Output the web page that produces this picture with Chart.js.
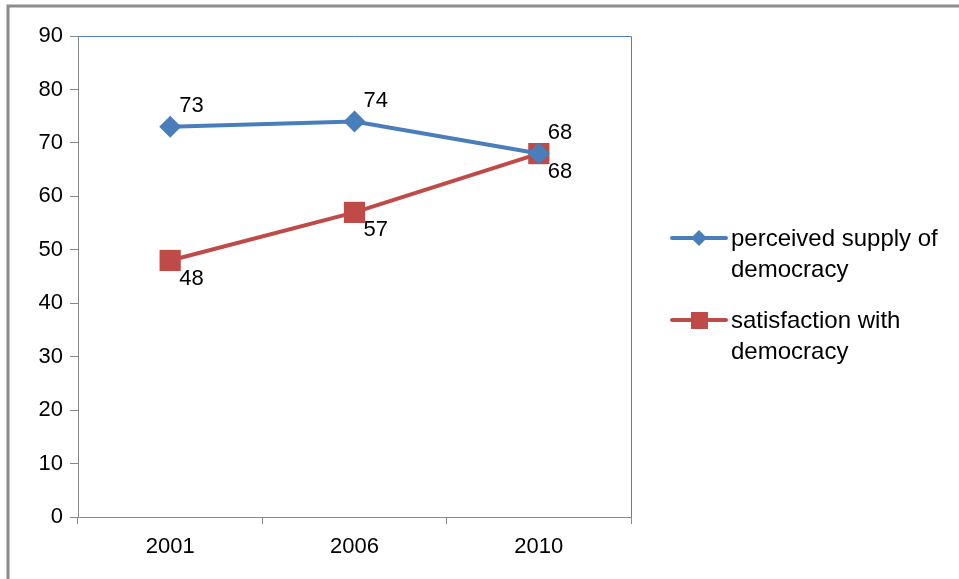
<!DOCTYPE html>
<html>
<head>
<meta charset="utf-8">
<script src="https://cdn.jsdelivr.net/npm/chart.js@4/dist/chart.umd.min.js"></script>
<style>
  html, body { margin: 0; padding: 0; background: #fff; }
  #wrap { width: 959px; height: 579px; position: relative; }
</style>
</head>
<body>
<div id="wrap"><canvas id="chart"></canvas></div>
<script>
let years = ["2001", "2006", "2010"];
let supplyValues = [73, 74, 68];
let satisfactionValues = [48, 57, 68];
let seriesNames = ["perceived supply of democracy", "satisfaction with democracy"];
let legendLines = [["perceived supply of", "democracy"], ["satisfaction with", "democracy"]];

let FONT = "'Liberation Sans', Arial, sans-serif";
let blue = "#4a7ebb";
let red = "#be4b48";

// outer frame + blue top/right edge of plot area
let framePlugin = {
  id: "frame",
  beforeDraw(chart) {
    let ctx = chart.ctx;
    ctx.save();
    ctx.fillStyle = "#fff";
    ctx.fillRect(0, 0, chart.width, chart.height);
    ctx.strokeStyle = "#8c8c8c";
    ctx.lineWidth = 3;
    ctx.beginPath();
    ctx.moveTo(8, chart.height);
    ctx.lineTo(8, 6);
    ctx.lineTo(chart.width, 6);
    ctx.stroke();
    ctx.restore();
  },
  afterDraw(chart) {
    let a = chart.chartArea, ctx = chart.ctx;
    ctx.save();
    ctx.strokeStyle = "#4f81bd";
    ctx.lineWidth = 1;
    ctx.beginPath();
    ctx.moveTo(a.left, a.top + 0.5);
    ctx.lineTo(a.right + 0.5, a.top + 0.5);
    ctx.lineTo(a.right + 0.5, a.bottom);
    ctx.stroke();
    ctx.restore();
  }
};

// value labels: first series above-right, second below-right
let labelPlugin = {
  id: "valueLabels",
  afterDatasetsDraw(chart) {
    let ctx = chart.ctx;
    ctx.save();
    ctx.font = "22px " + FONT;
    ctx.fillStyle = "#000";
    ctx.textAlign = "left";
    ctx.textBaseline = "middle";
    chart.data.datasets.forEach((ds, i) => {
      let meta = chart.getDatasetMeta(i);
      meta.data.forEach((pt, j) => {
        let dy = i === 0 ? -21 : 18;
        ctx.fillText(String(ds.data[j]), pt.x + 9, pt.y + dy);
      });
    });
    ctx.restore();
  }
};

// legend on the right with wrapped text
let legendPlugin = {
  id: "sideLegend",
  afterDraw(chart) {
    let ctx = chart.ctx;
    let rows = [238, 320];
    ctx.save();
    chart.data.datasets.forEach((ds, i) => {
      let y = rows[i];
      ctx.strokeStyle = ds.borderColor;
      ctx.lineWidth = 4;
      ctx.lineCap = "round";
      ctx.beginPath();
      ctx.moveTo(672, y);
      ctx.lineTo(726, y);
      ctx.stroke();
      ctx.fillStyle = ds.backgroundColor;
      if (ds.pointStyle === "rectRot") {
        ctx.beginPath();
        ctx.moveTo(699 - 8, y);
        ctx.lineTo(699, y - 8);
        ctx.lineTo(699 + 8, y);
        ctx.lineTo(699, y + 8);
        ctx.closePath();
        ctx.fill();
      } else {
        ctx.fillRect(691, y - 8, 17, 17);
      }
      ctx.fillStyle = "#000";
      ctx.font = "24px " + FONT;
      ctx.textBaseline = "middle";
      legendLines[i].forEach((t, k) => ctx.fillText(t, 731, y + 1 + k * 31));
    });
    ctx.restore();
  }
};

new Chart(document.getElementById("chart"), {
  type: "line",
  data: {
    labels: years,
    datasets: [
      {
        label: seriesNames[0],
        data: supplyValues,
        borderColor: blue,
        backgroundColor: blue,
        borderWidth: 4,
        pointStyle: "rectRot",
        pointRadius: 11,
        pointHoverRadius: 11,
        pointBorderWidth: 0
      },
      {
        label: seriesNames[1],
        data: satisfactionValues,
        borderColor: red,
        backgroundColor: red,
        borderWidth: 4,
        pointStyle: "rect",
        pointRadius: 15,
        pointHoverRadius: 15,
        pointBorderWidth: 0
      }
    ]
  },
  options: {
    responsive: true,
    maintainAspectRatio: false,
    animation: false,
    events: [],
    layout: { padding: { left: 0, right: 328, top: 36, bottom: 0 } },
    plugins: {
      legend: { display: false },
      tooltip: { enabled: false },
      title: { display: false }
    },
    scales: {
      x: {
        offset: true,
        grid: {
          offset: true,
          drawOnChartArea: false,
          tickLength: 7,
          color: "#888"
        },
        border: { color: "#888", width: 1 },
        ticks: { color: "#000", font: { family: FONT, size: 22 }, padding: 10 },
        afterFit(scale) { scale.height = 579 - 517; }
      },
      y: {
        min: 0,
        max: 90,
        grid: {
          drawOnChartArea: false,
          tickLength: 8,
          color: "#888"
        },
        border: { color: "#888", width: 1 },
        ticks: { stepSize: 10, color: "#000", font: { family: FONT, size: 22 }, padding: 7 },
        afterFit(scale) { scale.width = 78; }
      }
    }
  },
  plugins: [framePlugin, labelPlugin, legendPlugin]
});
</script>
</body>
</html>
